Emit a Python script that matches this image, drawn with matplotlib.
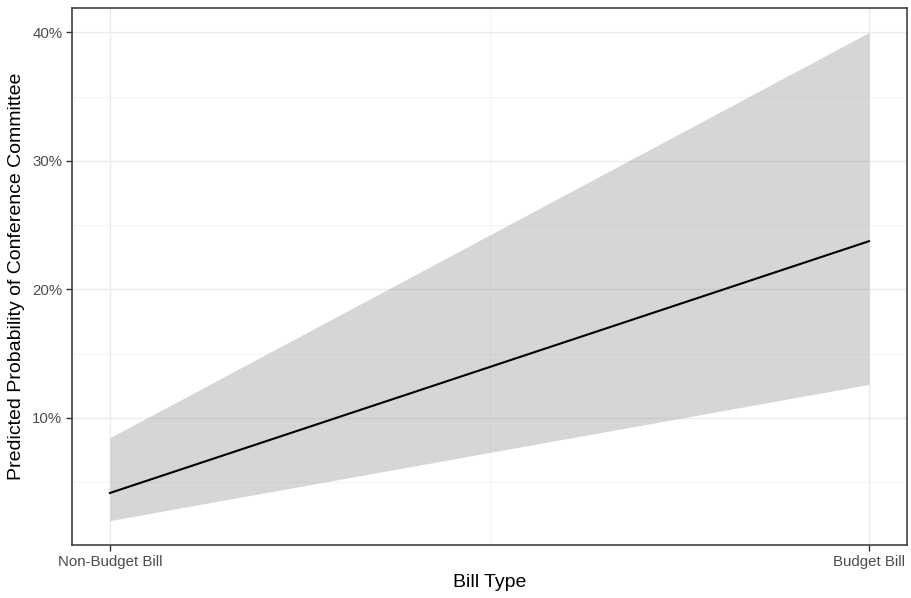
import matplotlib
matplotlib.use("Agg")
import matplotlib.pyplot as plt
from matplotlib.ticker import FixedLocator, FuncFormatter

# Predicted probability (%) of a conference committee by bill type
bill_types = ["Non-Budget Bill", "Budget Bill"]
x_pos = [1, 2]
predicted = [4.15, 23.75]
ci_lower = [2.0, 12.6]
ci_upper = [8.45, 40.0]

y_major = [10, 20, 30, 40]
y_minor = [5, 15, 25, 35]
x_minor = [1.5]

plt.rcParams["font.family"] = ["Liberation Sans", "DejaVu Sans"]

fig = plt.figure(figsize=(9.11, 5.98), dpi=100)
ax = fig.add_axes([72 / 911, 1 - 545 / 598, (907 - 72) / 911, (545 - 8) / 598])

# ggplot-style expanded limits
span_x = x_pos[-1] - x_pos[0]
ax.set_xlim(x_pos[0] - 0.05 * span_x, x_pos[-1] + 0.05 * span_x)
lo, hi = min(ci_lower), max(ci_upper)
ax.set_ylim(lo - 0.05 * (hi - lo), hi + 0.05 * (hi - lo))

ax.set_axisbelow(True)
ax.xaxis.set_major_locator(FixedLocator(x_pos))
ax.xaxis.set_minor_locator(FixedLocator(x_minor))
ax.yaxis.set_major_locator(FixedLocator(y_major))
ax.yaxis.set_minor_locator(FixedLocator(y_minor))
ax.set_xticklabels(bill_types)
ax.yaxis.set_major_formatter(FuncFormatter(lambda v, p: f"{v:.0f}%"))

ax.grid(which="major", color="#EBEBEB", linewidth=1.0)
ax.grid(which="minor", color="#F2F2F2", linewidth=0.6)

ax.fill_between(x_pos, ci_lower, ci_upper, color="#999999", alpha=0.4,
                linewidth=0, zorder=2)
ax.plot(x_pos, predicted, color="black", linewidth=1.5, zorder=3)

for s in ax.spines.values():
    s.set_color("#333333")
    s.set_linewidth(1.1)

ax.tick_params(which="major", length=4, width=1.0, color="#333333",
               labelcolor="#4D4D4D", labelsize=10.8, pad=3)
ax.tick_params(which="minor", length=0)

ax.set_xlabel("Bill Type", fontsize=14, color="black", labelpad=4)
ax.set_ylabel("Predicted Probability of Conference Committee", fontsize=14,
              color="black", labelpad=5)

fig.savefig("out.png", dpi=100, facecolor="white")
